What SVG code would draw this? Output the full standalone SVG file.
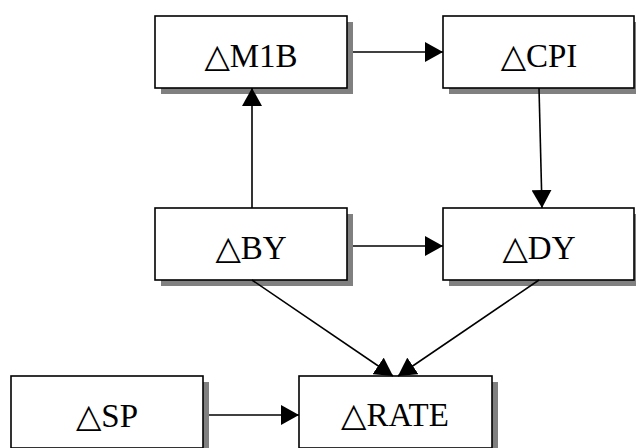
<svg xmlns="http://www.w3.org/2000/svg" width="636" height="448" viewBox="0 0 636 448">
<defs>
<marker id="ah" markerUnits="userSpaceOnUse" markerWidth="18" markerHeight="20" refX="18" refY="10" orient="auto" viewBox="0 0 18 20">
<path d="M0,0 L18,10 L0,20 z" fill="#000"/>
</marker>
</defs>
<style>
.shadow{fill:#808080;}
.box{fill:#fff;stroke:#000;stroke-width:1.6;}
.lbl{font-family:"Liberation Serif","DejaVu Serif",serif;font-size:33px;fill:#000;text-anchor:middle;}
.edge{stroke:#000;stroke-width:1.6;fill:none;marker-end:url(#ah);}
</style>
<rect width="636" height="448" fill="#fff"/>
<g id="M1B">
<rect class="shadow" x="161" y="22" width="192" height="72"/>
<rect class="box" x="155" y="16" width="192" height="72"/>
<text class="lbl" x="251" y="67">△M1B</text>
</g>
<g id="CPI">
<rect class="shadow" x="449" y="22" width="191" height="72"/>
<rect class="box" x="443" y="16" width="191" height="72"/>
<text class="lbl" x="539" y="67">△CPI</text>
</g>
<g id="BY">
<rect class="shadow" x="161" y="214" width="192" height="72"/>
<rect class="box" x="155" y="208" width="192" height="72"/>
<text class="lbl" x="251" y="259">△BY</text>
</g>
<g id="DY">
<rect class="shadow" x="449" y="214" width="191" height="72"/>
<rect class="box" x="443" y="208" width="191" height="72"/>
<text class="lbl" x="539" y="259">△DY</text>
</g>
<g id="SP">
<rect class="shadow" x="17" y="382" width="192" height="72"/>
<rect class="box" x="11" y="376" width="192" height="72"/>
<text class="lbl" x="107" y="427">△SP</text>
</g>
<g id="RATE">
<rect class="shadow" x="305" y="382" width="193" height="72"/>
<rect class="box" x="299" y="376" width="193" height="72"/>
<text class="lbl" x="395" y="426">△RATE</text>
</g>
<g id="connectors">
<line class="edge" x1="353" y1="52" x2="443" y2="52"/>
<line class="edge" x1="252" y1="208" x2="252" y2="88"/>
<line class="edge" x1="539" y1="88" x2="542" y2="208"/>
<line class="edge" x1="353" y1="246" x2="443" y2="246"/>
<line class="edge" x1="252" y1="280" x2="393" y2="376"/>
<line class="edge" x1="539" y1="280" x2="398" y2="376"/>
<line class="edge" x1="209" y1="415" x2="299" y2="415"/>
</g>
</svg>
